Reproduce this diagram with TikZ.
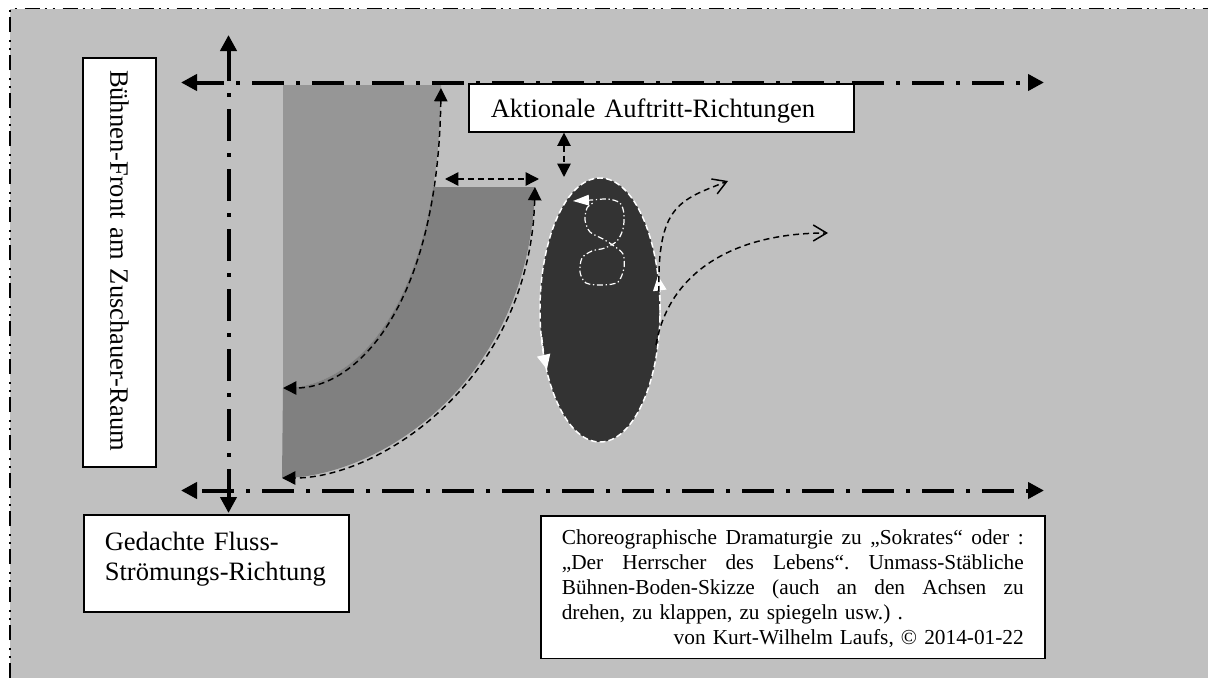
\documentclass[tikz,border=0pt]{standalone}
\usepackage{fontspec}
\setmainfont{Liberation Serif}
\usetikzlibrary{arrows.meta,shapes.geometric}
\definecolor{bgray}{HTML}{C0C0C0}
\definecolor{gA}{HTML}{969696}
\definecolor{gB}{HTML}{808080}
\definecolor{gC}{HTML}{333333}
\frenchspacing
\newcommand{\jline}[1]{\makebox[346.5pt][s]{\spaceskip=0pt\xspaceskip=0pt #1}}
\begin{document}
\begin{tikzpicture}[x=0.75pt,y=-0.75pt,
 frameline/.style={line width=1.1pt, dash pattern=on 11.25pt off 3.75pt on 1.5pt off 4.5pt on 1.5pt off 6pt},
 axisline/.style={line width=3pt, dash pattern=on 24pt off 9pt on 3pt off 9pt, >={Triangle[length=12pt,width=12pt]}, <->},
 tbox/.style={draw, line width=1.2pt, fill=white, inner ysep=0pt},
 bigfont/.style={font=\fontsize{19.9pt}{22.5pt}\selectfont},
 dcurve/.style={line width=1.1pt, dash pattern=on 4.5pt off 3pt},
 dbl/.style={dcurve, >={Triangle[length=10pt,width=10pt]}, <->},
 openarr/.style={dcurve, -{Straight Barb[length=10pt,width=12pt]}},
 wtip/.style={white, line width=1.1pt, dash pattern=on 4.5pt off 2.25pt, -{Triangle[length=11pt,width=10pt]}},
 scrib/.style={white, line width=0.9pt, dash pattern=on 4.5pt off 2pt on 1pt off 2pt, {Triangle[length=12pt,width=8pt]}-},
]
\useasboundingbox (0,0) rectangle (1208,678);
\fill[bgray] (10,8.5) rectangle (1208,678);
\draw[frameline] (10,678) -- (10,8.5) -- (1208,8.5);

% flow bands
\fill[gA] (283,85) -- (441,85) -- (441,88) .. controls (438,300) and (360,388) .. (283,388) -- cycle;
\begin{scope}
\clip (0,187) rectangle (1208,678);
\fill[gB] (441,88) -- (535,88) -- (535,187) .. controls (530,380) and (380,478) .. (282,478) -- (283,388) .. controls (360,388) and (438,300) .. (441,88) -- cycle;
\end{scope}
\draw[dbl] (441,88) .. controls (438,300) and (360,388) .. (283,388);
\draw[dbl] (535,187) .. controls (530,380) and (380,478) .. (282,478);

% ellipse
\node[ellipse, fill=gC, draw=white, line width=1.1pt, dash pattern=on 4.5pt off 2.25pt, minimum width=90pt, minimum height=198pt, inner sep=0pt] (ell) at (600,310) {};
\draw[wtip] (541.7,336.9) arc[start angle=168, end angle=153, x radius=60, y radius=132];
\draw[wtip] (659.9,319.2) arc[start angle=4, end angle=-15, x radius=60, y radius=132];
\draw[scrib] plot[smooth, tension=0.5] coordinates {(573,201) (592,200) (608,199) (620,203) (624,214) (623,229) (617,241) (605,248) (592,251) (582,258) (580,272) (586,283) (603,285) (618,282) (624,268) (623,254) (614,246) (603,239) (590,232) (585,220) (587,208) (593,203)};

% exit paths
\draw[openarr] (659,292) .. controls (657,205) and (680,200) .. (728,181);
\draw[openarr] (656,345) .. controls (668,275) and (730,233) .. (828,233);

% boxes
\node[tbox, bigfont, rotate=-90, text width=288.75pt, inner xsep=9pt, minimum height=54.75pt] (front) at (119.5,262.5) {\noindent Bühnen-Front am Zuschauer-Raum};
\node[tbox, bigfont, anchor=north west, text width=255.75pt, inner xsep=16.5pt] (akt) at (468,83) {\noindent\rule[-10.5pt]{0pt}{36pt}Aktionale Auftritt-Richtungen};
\node[tbox, bigfont, anchor=north west, text width=167.25pt, inner xsep=15.75pt] (fluss) at (83,514) {\noindent\rule{0pt}{27pt}Gedachte Fluss-\\Strömungs-Richtung\rule[-23.25pt]{0pt}{23.25pt}};
\node[tbox, font=\fontsize{16pt}{18.6pt}\selectfont, anchor=north west, text width=346.5pt, inner xsep=15.75pt] (note) at (540,515) {\noindent\rule{0pt}{21.75pt}\jline{Choreographische Dramaturgie zu „Sokrates“ oder :}\\
\jline{„Der Herrscher des Lebens“. Unmass-Stäbliche}\\
\jline{Bühnen-Boden-Skizze (auch an den Achsen zu}\\
drehen, zu klappen, zu spiegeln usw.) .\\
\hspace*{\fill}von Kurt-Wilhelm Laufs, © 2014-01-22\rule[-11pt]{0pt}{11pt}};

% axes
\coordinate (tL) at (181,82.5);
\coordinate (tR) at (1044,82.5);
\coordinate (bL) at (181,490.5);
\coordinate (bR) at (1044,490.5);
\coordinate (vT) at (228.5,35);
\coordinate (vB) at (228.5,513);
\draw[axisline, dash phase=3pt] (tL) -- (tR);
\draw[axisline, dash phase=40.5pt] (bL) -- (bR);
\draw[axisline, dash phase=0.75pt] (vT) -- (vB);

% gap markers
\coordinate (hA) at (445,179);
\coordinate (hB) at (539,179);
\coordinate (vA) at (564,177);
\draw[dbl] (hA) -- (hB);
\draw[dbl] (akt.south west -| vA) -- (vA);
\end{tikzpicture}
\end{document}
